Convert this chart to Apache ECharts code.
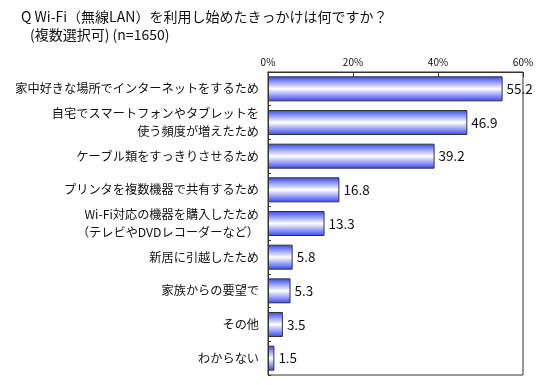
<!DOCTYPE html>
<html><head><meta charset="utf-8">
<script src="https://cdn.jsdelivr.net/npm/echarts@6/dist/echarts.min.js"></script>
<style>html,body{margin:0;padding:0;background:#fff}#c{width:550px;height:385px}</style>
</head><body><div id="c"></div>
<script>
const categories = [
  '家中好きな場所でインターネットをするため',
  '自宅でスマートフォンやタブレットを\n使う頻度が増えたため',
  'ケーブル類をすっきりさせるため',
  'プリンタを複数機器で共有するため',
  'Wi-Fi対応の機器を購入したため\n（テレビやDVDレコーダーなど）',
  '新居に引越したため',
  '家族からの要望で',
  'その他',
  'わからない'
];
const values = [55.2, 46.9, 39.2, 16.8, 13.3, 5.8, 5.3, 3.5, 1.5];
const titleLine1 = 'Q Wi-Fi（無線LAN）を利用し始めたきっかけは何ですか？';
const titleLine2 = '(複数選択可) (n=1650)';

const font = '"Noto Sans CJK JP", sans-serif';
const chart = echarts.init(document.getElementById('c'));
chart.setOption({
  animation: false,
  textStyle: {fontFamily: font},
  title: [
    {text: titleLine1, left: 16, top: 5, textStyle: {fontSize: 14, fontWeight: 'normal', color: '#111', fontFamily: font}},
    {text: titleLine2, left: 25, top: 23, textStyle: {fontSize: 14, fontWeight: 'normal', color: '#111', fontFamily: font}}
  ],
  grid: {left: 268, top: 72, width: 255, height: 303, show: true, borderColor: '#333', borderWidth: 1, containLabel: false},
  xAxis: {
    type: 'value', position: 'top', min: 0, max: 60, interval: 20,
    axisLine: {show: true, lineStyle: {color: '#333'}},
    axisTick: {show: true, inside: true, length: 5, lineStyle: {color: '#333'}},
    splitLine: {show: false},
    axisLabel: {formatter: '{value}%', fontSize: 10, color: '#111', margin: 5}
  },
  yAxis: {
    type: 'category', data: categories, inverse: true,
    axisLine: {show: true, lineStyle: {color: '#333'}},
    axisTick: {show: true, inside: true, length: 3, lineStyle: {color: '#333'}},
    axisLabel: {fontSize: 12.2, color: '#111', margin: 9, lineHeight: 18, align: 'right'}
  },
  series: [{
    type: 'bar', data: values, barWidth: 25,
    itemStyle: {
      borderColor: '#333', borderWidth: 1,
      color: new echarts.graphic.LinearGradient(0, 0, 0, 1, [
        {offset: 0, color: '#3545f0'},
        {offset: 0.5, color: '#ffffff'},
        {offset: 1, color: '#3545f0'}
      ])
    },
    label: {show: true, position: 'right', fontSize: 13.5, color: '#111', distance: 4}
  }]
});
</script></body></html>
